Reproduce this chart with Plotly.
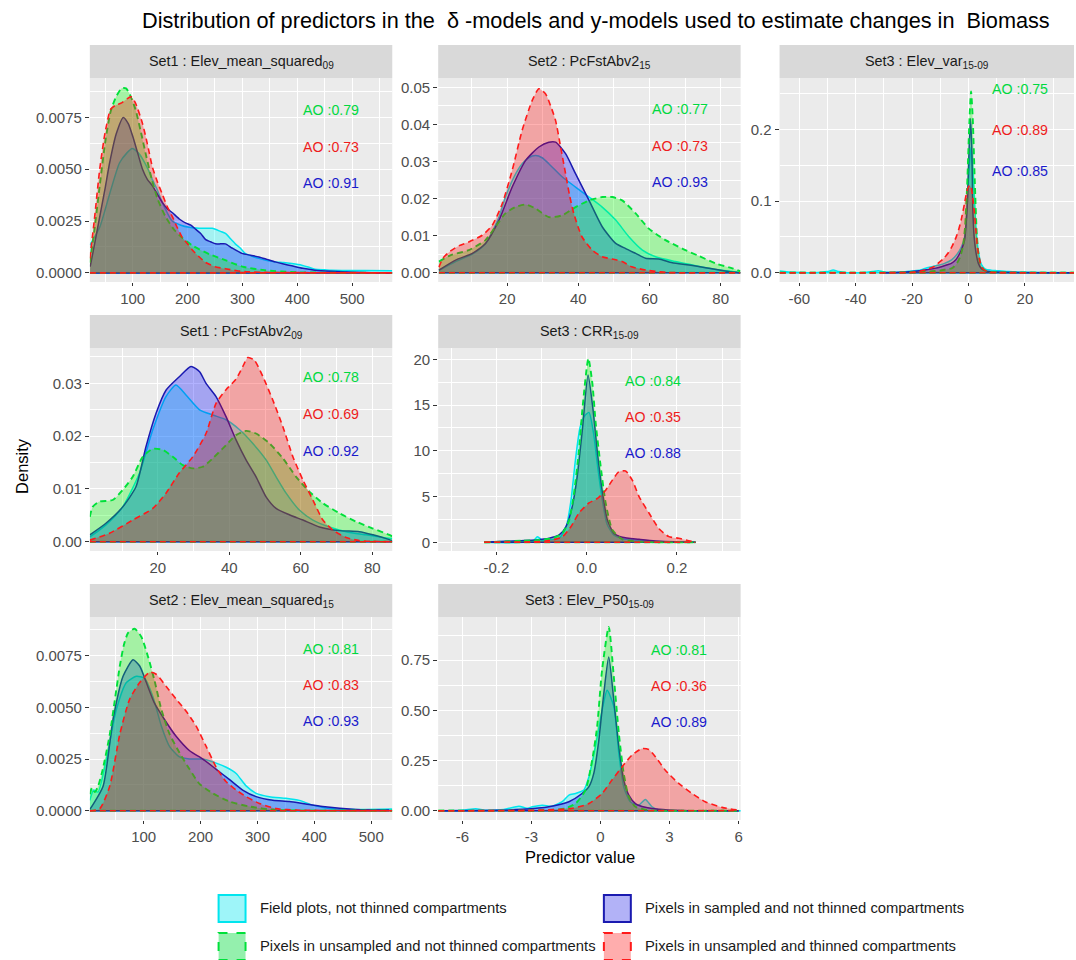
import plotly.graph_objects as go

# ---------------- text ----------------
TITLE = "Distribution of predictors in the\u00a0 \u03b4 -models and y-models used to estimate changes in\u00a0 Biomass"
X_TITLE = "Predictor value"
Y_TITLE = "Density"
SERIES_NAMES = ["Field plots, not thinned compartments",
                "Pixels in sampled and not thinned compartments",
                "Pixels in unsampled and not thinned compartments",
                "Pixels in unsampled and thinned compartments"]
PANEL_TITLES = ["Set1 : Elev_mean_squared<sub>09</sub>",
                "Set2 : PcFstAbv2<sub>15</sub>",
                "Set3 : Elev_var<sub>15-09</sub>",
                "Set1 : PcFstAbv2<sub>09</sub>",
                "Set3 : CRR<sub>15-09</sub>",
                "Set2 : Elev_mean_squared<sub>15</sub>",
                "Set3 : Elev_P50<sub>15-09</sub>"]
# AO values per panel: (green, red, blue)
AO_VALUES = [[0.79, 0.73, 0.91], [0.77, 0.73, 0.93], [0.75, 0.89, 0.85],
             [0.78, 0.69, 0.92], [0.84, 0.35, 0.88], [0.81, 0.83, 0.93],
             [0.81, 0.36, 0.89]]

# ---------------- panel 1 : Set1 Elev_mean_squared09 ----------------
P1_FIELD_X = [22, 40, 58, 76, 90, 99, 110, 118, 128, 136, 145, 154, 163, 172, 188, 203, 221, 245, 260, 269, 280, 287, 296, 305, 318, 330, 345, 360, 375, 390, 408, 420, 432, 450, 462, 490, 523, 573]
P1_FIELD_Y = [0.00134, 0.0022, 0.0038, 0.0053, 0.0058, 0.0060, 0.0058, 0.0055, 0.0050, 0.0045, 0.0040, 0.0034, 0.0029, 0.0025, 0.0023, 0.0022, 0.00215, 0.00215, 0.0020, 0.0019, 0.0016, 0.0014, 0.0012, 0.00094, 0.0008, 0.0007, 0.0006, 0.00053, 0.0005, 0.00045, 0.00037, 0.00028, 0.00018, 0.00015, 0.00013, 0.00012, 0.00012, 0.0001]
P1_SAMP_X = [22.6, 30, 40, 50, 58, 70, 83, 92, 100, 109, 118, 127, 136, 145, 154, 163, 172.5, 185, 197, 206, 215, 224, 233, 242, 251, 260, 269, 281, 299, 315, 330, 345, 360, 375, 390, 410, 432, 462, 523, 573]
P1_SAMP_Y = [0.0003, 0.0013, 0.0027, 0.0041, 0.0053, 0.0067, 0.0075, 0.0072, 0.0066, 0.0058, 0.0050, 0.0045, 0.0042, 0.0038, 0.0034, 0.0031, 0.0029, 0.0026, 0.0024, 0.0023, 0.0021, 0.0019, 0.0016, 0.0015, 0.0014, 0.0014, 0.0014, 0.0012, 0.00094, 0.00085, 0.00077, 0.00065, 0.00053, 0.00043, 0.00034, 0.00022, 0.00013, 0.00008, 0.00002, 0.0]
P1_UNS_X = [22, 30, 40, 50, 60, 70, 80, 88, 95, 105, 115, 125, 135, 145, 160, 175, 190, 210, 240, 270, 300, 340, 400, 573]
P1_UNS_Y = [0.0005, 0.0020, 0.0042, 0.0063, 0.0078, 0.0085, 0.0089, 0.0089, 0.0086, 0.0079, 0.0068, 0.0056, 0.0045, 0.0036, 0.0027, 0.0021, 0.0017, 0.0013, 0.0009, 0.0006, 0.0003, 0.00013, 0.00003, 0.0]
P1_THIN_X = [22, 30, 40, 50, 60, 70, 80, 90, 97, 105, 118, 127, 136, 145, 154, 163, 172.5, 181, 190.6, 200, 208.8, 220, 233, 250, 269, 290, 311, 350, 573]
P1_THIN_Y = [0.0007, 0.0025, 0.0050, 0.0068, 0.0079, 0.0081, 0.0082, 0.0084, 0.0085, 0.0082, 0.0072, 0.0062, 0.0051, 0.0044, 0.0038, 0.0032, 0.0027, 0.0022, 0.0017, 0.0014, 0.0011, 0.0008, 0.0005, 0.0003, 0.0002, 0.0001, 0.00005, 0.00002, 0.0]

# ---------------- panel 2 : Set2 PcFstAbv2_15 ----------------
P2_FIELD_X = [0.8, 5.5, 10.2, 13.9, 17.7, 19.5, 22, 24.2, 26, 28, 29.8, 31.7, 35.5, 39.2, 43, 46.7, 50.5, 54.2, 58, 61.7, 67.3, 73, 78.6, 83.3, 85.5]
P2_FIELD_Y = [0.0006, 0.0030, 0.0050, 0.0078, 0.0150, 0.0204, 0.0260, 0.0294, 0.0310, 0.0316, 0.0310, 0.0294, 0.0258, 0.0231, 0.0204, 0.0177, 0.0142, 0.0097, 0.0061, 0.0043, 0.0030, 0.0019, 0.0009, 0.0003, 0.0]
P2_SAMP_X = [0.8, 5.5, 10.2, 13.9, 17.7, 21.4, 25.2, 28.9, 31.7, 33.6, 36.4, 39.2, 43, 46.7, 50.5, 53.3, 56.1, 58.9, 62.6, 66.4, 71.1, 76.7, 82.3, 85.5]
P2_SAMP_Y = [0.0007, 0.0034, 0.0052, 0.0079, 0.0142, 0.0231, 0.0303, 0.0339, 0.0352, 0.0352, 0.0321, 0.0267, 0.0195, 0.0124, 0.0079, 0.0065, 0.0052, 0.0039, 0.0037, 0.0027, 0.0021, 0.0012, 0.0003, 0.0]
P2_UNS_X = [0.8, 4, 9.2, 13.9, 16.7, 19.5, 22.3, 25.2, 28, 31.7, 35.5, 39.2, 43, 46.7, 49.5, 52.3, 56.1, 59.8, 64.5, 69.2, 73.9, 78.6, 83.3, 85.5]
P2_UNS_Y = [0.003, 0.0047, 0.0061, 0.0088, 0.0124, 0.016, 0.0177, 0.0184, 0.0173, 0.015, 0.0155, 0.0177, 0.0195, 0.0204, 0.0204, 0.0195, 0.016, 0.0119, 0.0088, 0.0065, 0.0045, 0.0025, 0.0012, 0.0004]
P2_THIN_X = [0.8, 2, 4, 6.5, 9.2, 13, 15.8, 18.6, 21.4, 24.2, 27, 28.9, 30.8, 32.2, 33.6, 35, 36.4, 37.5, 38.7, 41, 43.9, 46.7, 49.5, 52.3, 55, 59, 64.5, 70, 85.5]
P2_THIN_Y = [0.0015, 0.0040, 0.0058, 0.0073, 0.0083, 0.0101, 0.0128, 0.0186, 0.0276, 0.0384, 0.0464, 0.0496, 0.0482, 0.0450, 0.0410, 0.0340, 0.0267, 0.0210, 0.0160, 0.0097, 0.0061, 0.0043, 0.0037, 0.0030, 0.0016, 0.0007, 0.0001, 0.0, 0.0]

# ---------------- panel 3 : Set3 Elev_var15-09 ----------------
P3_FIELD_X = [-67, -62, -55, -50, -48, -46, -43, -38, -34, -32, -30, -25, -20, -17, -15.5, -13, -10, -8.5, -6, -4, -2.5, -1.4, -0.5, 0.3, 0.9, 1.6, 2.7, 3.5, 4.5, 6, 8, 10, 14, 20, 37.4]
P3_FIELD_Y = [0.0023, 0.0005, 0.0, 0.0015, 0.0037, 0.0015, 0.0, 0.0, 0.0015, 0.0028, 0.001, 0.0005, 0.0025, 0.0037, 0.006, 0.0084, 0.011, 0.013, 0.018, 0.026, 0.036, 0.05, 0.09, 0.15, 0.175, 0.14, 0.06, 0.03, 0.012, 0.005, 0.0035, 0.0028, 0.0015, 0.0005, 0.0]
P3_SAMP_X = [-30, -24, -20, -15.5, -12, -9.6, -7.5, -6.1, -4.5, -3.8, -2.5, -1.4, -0.5, 0.2, 0.7, 1.2, 1.5, 2.0, 2.7, 3.5, 4.5, 6, 8, 12, 37.4]
P3_SAMP_Y = [0.0, 0.0005, 0.0015, 0.0037, 0.0060, 0.0084, 0.011, 0.013, 0.018, 0.022, 0.032, 0.0456, 0.09, 0.17, 0.215, 0.17, 0.092, 0.05, 0.027, 0.013, 0.006, 0.0025, 0.0014, 0.0005, 0.0]
P3_UNS_X = [-67, -30, -20, -14, -10, -8, -6, -5, -4, -3, -2, -1.2, -0.5, 0.3, 0.9, 1.5, 2.2, 3, 4, 5.5, 8, 12, 37.4]
P3_UNS_Y = [0, 0, 0.0005, 0.0015, 0.003, 0.0045, 0.006, 0.009, 0.014, 0.022, 0.036, 0.065, 0.12, 0.21, 0.253, 0.215, 0.13, 0.05, 0.015, 0.004, 0.0012, 0.0003, 0.0]
P3_THIN_X = [-67, -30, -20, -15.5, -12, -10.8, -9, -7.3, -5.8, -4.35, -3.5, -2.6, -1.5, -0.5, 0.35, 1.0, 1.5, 2.1, 2.7, 3.3, 4.2, 5, 6.5, 8, 12, 37.4]
P3_THIN_Y = [0, 0, 0.0005, 0.0037, 0.009, 0.013, 0.019, 0.027, 0.037, 0.050, 0.060, 0.0735, 0.095, 0.115, 0.122, 0.118, 0.105, 0.083, 0.055, 0.0316, 0.014, 0.006, 0.002, 0.0005, 0.0001, 0.0]

# ---------------- panel 4 : Set1 PcFstAbv2_09 ----------------
P4_FIELD_X = [1, 5.5, 10.2, 14.9, 18.6, 22.3, 25.1, 27.9, 31.7, 35.4, 39.1, 42.9, 46.6, 50.3, 53.1, 55.9, 59.6, 63.4, 68, 72.7, 78.3, 83, 85.6]
P4_FIELD_Y = [0.0009, 0.0032, 0.0066, 0.013, 0.0212, 0.0275, 0.0297, 0.0278, 0.025, 0.024, 0.0231, 0.0212, 0.0186, 0.0155, 0.0123, 0.0092, 0.006, 0.0041, 0.0028, 0.0019, 0.0013, 0.0008, 0.0006]
P4_SAMP_X = [1, 5.5, 10.2, 13.9, 16.7, 19.5, 22.3, 26.1, 29.3, 31.7, 33.5, 36.3, 39.1, 41.9, 44.7, 47.5, 50.3, 53.1, 56.8, 60.6, 65.2, 70.8, 76.4, 80.2, 84.8, 85.6]
P4_SAMP_Y = [0.0013, 0.0035, 0.0066, 0.0104, 0.018, 0.0243, 0.0287, 0.0313, 0.0332, 0.0322, 0.030, 0.0275, 0.0237, 0.0193, 0.0155, 0.0123, 0.0085, 0.0063, 0.0051, 0.0041, 0.0028, 0.0021, 0.0019, 0.0013, 0.0004, 0.0002]
P4_UNS_X = [1, 1.8, 3.7, 7.4, 10.2, 13, 15.8, 18.6, 21.4, 24.2, 27, 29.8, 32.6, 35.4, 39.1, 41.9, 44.7, 47.5, 51.3, 55, 58.7, 62.4, 66.2, 70.8, 75.5, 80.2, 84.8, 85.6]
P4_UNS_Y = [0.0047, 0.0066, 0.0076, 0.0079, 0.0098, 0.0123, 0.0161, 0.0176, 0.0174, 0.0161, 0.0145, 0.0139, 0.0142, 0.0158, 0.0183, 0.0202, 0.021, 0.0205, 0.0186, 0.0158, 0.0123, 0.0095, 0.0073, 0.0054, 0.0038, 0.0025, 0.0013, 0.001]
P4_THIN_X = [1, 6.5, 13, 18.6, 22.3, 26, 29.8, 33.5, 36.3, 39.1, 41.9, 43.8, 45.2, 47, 49.4, 52.2, 55, 57.8, 60.6, 63.4, 66.2, 69, 72.7, 76.4, 85.6]
P4_THIN_Y = [0.0003, 0.0016, 0.0041, 0.0063, 0.0092, 0.013, 0.0161, 0.0205, 0.0262, 0.0288, 0.0308, 0.0332, 0.0349, 0.0344, 0.0313, 0.0268, 0.0218, 0.0161, 0.0117, 0.0079, 0.0041, 0.0022, 0.0008, 0.0002, 0.0]

# ---------------- panel 5 : Set3 CRR15-09 ----------------
P5_FIELD_X = [-0.227, -0.12, -0.109, -0.098, -0.085, -0.06, -0.045, -0.035, -0.025, -0.015, -0.005, 0.005, 0.015, 0.025, 0.035, 0.045, 0.06, 0.08, 0.12, 0.2, 0.241]
P5_FIELD_Y = [0, 0.1, 0.62, 0.2, 0.25, 0.5, 1.8, 4.5, 9.0, 12.5, 13.8, 14.2, 12.0, 8.0, 4.5, 2.0, 0.8, 0.4, 0.2, 0.02, 0]
P5_SAMP_X = [-0.227, -0.15, -0.113, -0.083, -0.061, -0.046, -0.032, -0.021, -0.0096, 0.003, 0.014, 0.024, 0.035, 0.046, 0.06, 0.079, 0.116, 0.152, 0.241]
P5_SAMP_Y = [0, 0.18, 0.26, 0.44, 0.8, 1.7, 3.9, 7.2, 12.3, 18.3, 14.5, 9.7, 5.4, 2.4, 1.0, 0.55, 0.33, 0.15, 0]
P5_UNS_X = [-0.227, -0.142, -0.105, -0.076, -0.054, -0.039, -0.028, -0.017, -0.0096, 0.0037, 0.0125, 0.02, 0.031, 0.042, 0.057, 0.079, 0.116, 0.16, 0.241]
P5_UNS_Y = [0, 0.18, 0.26, 0.44, 1.0, 2.4, 5.4, 10.1, 14.5, 20.1, 17.4, 13.0, 8.3, 4.3, 1.35, 0.33, 0.07, 0.0, 0]
P5_THIN_X = [-0.227, -0.12, -0.083, -0.054, -0.035, -0.017, 0.005, 0.024, 0.042, 0.057, 0.071, 0.086, 0.101, 0.116, 0.138, 0.16, 0.182, 0.204, 0.226, 0.241]
P5_THIN_Y = [0, 0.05, 0.18, 0.6, 1.7, 3.2, 4.3, 4.8, 5.7, 6.8, 7.7, 7.8, 6.8, 5.0, 3.2, 1.5, 0.62, 0.44, 0.18, 0]

# ---------------- panel 6 : Set2 Elev_mean_squared15 ----------------
P6_FIELD_X = [5.3, 12, 19.6, 34.5, 52, 69.6, 87, 101.8, 116.4, 131, 145.6, 163, 180.7, 204, 227.5, 245, 262.6, 280, 297.7, 321, 350, 373.7, 397, 426, 473, 537]
P6_FIELD_Y = [0.0005, 0.0010, 0.0009, 0.0025, 0.0049, 0.0062, 0.0065, 0.0064, 0.0055, 0.0041, 0.0031, 0.0026, 0.0025, 0.0025, 0.0023, 0.0021, 0.0018, 0.0012, 0.00084, 0.00068, 0.0006, 0.0005, 0.00027, 0.00011, 0.00006, 0.00008]
P6_SAMP_X = [5.3, 28.7, 46, 63.7, 81.3, 93, 104.7, 119, 136.8, 157, 180.7, 204, 227.5, 251, 274, 297.7, 327, 356, 385, 414.6, 473, 531.6]
P6_SAMP_Y = [0.00006, 0.0012, 0.0044, 0.0065, 0.0073, 0.0070, 0.0062, 0.0052, 0.0044, 0.0036, 0.0029, 0.0025, 0.0020, 0.0015, 0.0010, 0.00068, 0.0005, 0.00044, 0.00032, 0.0002, 0.00006, 0.00003]
P6_UNS_X = [5.3, 9, 14, 20, 28, 40.4, 50, 58, 65, 72.5, 84.2, 96, 107.6, 119, 131, 145.6, 163, 180.7, 198, 221.6, 251, 286, 333, 400, 537]
P6_UNS_Y = [0.0008, 0.0011, 0.0009, 0.0012, 0.0020, 0.0037, 0.0055, 0.0070, 0.0080, 0.0086, 0.0088, 0.0084, 0.00745, 0.0063, 0.0049, 0.0037, 0.0028, 0.0020, 0.0013, 0.00084, 0.00044, 0.0002, 0.00003, 0.0, 0.0]
P6_THIN_X = [5.3, 22.8, 40.4, 58, 75.4, 93, 110.5, 122, 140, 157, 175, 192, 210, 227.5, 245, 262.6, 280, 303.5, 333, 368, 537]
P6_THIN_Y = [0.0, 0.0001, 0.0012, 0.0037, 0.0054, 0.0062, 0.0067, 0.0066, 0.0060, 0.0054, 0.0048, 0.0041, 0.0031, 0.0021, 0.0014, 0.0010, 0.00068, 0.00035, 0.0001, 0.00003, 0.0]

# ---------------- panel 7 : Set3 Elev_P50 15-09 ----------------
P7_FIELD_X = [-7.05, -6, -5.42, -5, -4.2, -3.54, -3.2, -2.96, -2.53, -2.1, -1.66, -1.37, -1.08, -0.72, -0.5, -0.22, 0.07, 0.29, 0.58, 0.8, 1.01, 1.3, 1.66, 1.95, 2.24, 2.6, 3.5, 6.09]
P7_FIELD_Y = [0, 0.003, 0.01, 0.003, 0.006, 0.023, 0.012, 0.02, 0.028, 0.023, 0.045, 0.078, 0.086, 0.103, 0.17, 0.318, 0.50, 0.60, 0.52, 0.285, 0.12, 0.045, 0.028, 0.056, 0.02, 0.003, 0.0, 0]
P7_SAMP_X = [-7.05, -4.5, -3.4, -2.24, -1.37, -0.8, -0.5, -0.29, -0.07, 0.145, 0.36, 0.58, 0.8, 1.01, 1.23, 1.52, 1.95, 2.53, 3.5, 6]
P7_SAMP_Y = [0, 0.002, 0.007, 0.02, 0.045, 0.086, 0.12, 0.186, 0.352, 0.584, 0.766, 0.55, 0.318, 0.153, 0.078, 0.036, 0.017, 0.007, 0.001, 0]
P7_UNS_X = [-7.05, -3, -2.2, -1.52, -1.08, -0.65, -0.36, -0.145, 0.07, 0.36, 0.58, 0.8, 1.01, 1.23, 1.52, 2.1, 3, 6]
P7_UNS_Y = [0, 0.0, 0.004, 0.012, 0.036, 0.103, 0.252, 0.418, 0.70, 0.916, 0.667, 0.385, 0.186, 0.07, 0.02, 0.003, 0.0, 0]
P7_THIN_X = [-7.05, -2.67, -1.23, -0.5, 0.07, 0.5, 0.94, 1.37, 1.81, 2.1, 2.39, 2.82, 3.4, 3.98, 4.55, 5.28, 6.0]
P7_THIN_Y = [0, 0.003, 0.012, 0.036, 0.086, 0.153, 0.219, 0.277, 0.31, 0.305, 0.269, 0.202, 0.136, 0.086, 0.045, 0.017, 0.003]

# ---------------- tick labels ----------------
X_TICKS = [
    ([100, 200, 300, 400, 500], ["100", "200", "300", "400", "500"]),
    ([20, 40, 60, 80], ["20", "40", "60", "80"]),
    ([-60, -40, -20, 0, 20], ["-60", "-40", "-20", "0", "20"]),
    ([20, 40, 60, 80], ["20", "40", "60", "80"]),
    ([-0.2, 0.0, 0.2], ["-0.2", "0.0", "0.2"]),
    ([100, 200, 300, 400, 500], ["100", "200", "300", "400", "500"]),
    ([-6, -3, 0, 3, 6], ["-6", "-3", "0", "3", "6"]),
]
Y_TICKS = [
    ([0, 0.0025, 0.005, 0.0075], ["0.0000", "0.0025", "0.0050", "0.0075"]),
    ([0, 0.01, 0.02, 0.03, 0.04, 0.05], ["0.00", "0.01", "0.02", "0.03", "0.04", "0.05"]),
    ([0, 0.1, 0.2], ["0.0", "0.1", "0.2"]),
    ([0, 0.01, 0.02, 0.03], ["0.00", "0.01", "0.02", "0.03"]),
    ([0, 5, 10, 15, 20], ["0", "5", "10", "15", "20"]),
    ([0, 0.0025, 0.005, 0.0075], ["0.0000", "0.0025", "0.0050", "0.0075"]),
    ([0, 0.25, 0.5, 0.75], ["0.00", "0.25", "0.50", "0.75"]),
]

# ---------------- layout (styling / positions) ----------------
W, H = 1076, 960
FONT = "Liberation Sans, Arial, sans-serif"
X_RANGES = [[22, 573], [0.6, 85.6], [-67, 37.4], [1, 85.6], [-0.329, 0.341], [5.3, 537], [-7.05, 6.09]]
Y_RANGES = [[-0.00044, 0.0094], [-0.0025, 0.0525], [-0.013, 0.2716], [-0.00176, 0.0367],
            [-0.95, 21.24], [-0.00045, 0.00937], [-0.046, 0.965]]
X_MINOR = [50, 10, 10, 10, 0.1, 50, 1.5]
Y_MINOR = [0.00125, 0.005, 0.05, 0.005, 2.5, 0.00125, 0.125]
COLS = [(90, 393), (439, 742), (781, 1076)]
ROWS = [(45, 78, 282), (315, 348, 551), (584, 617, 820)]   # strip top, plot top, plot bottom
CELLS = [(0, 0), (0, 1), (0, 2), (1, 0), (1, 1), (2, 0), (2, 1)]   # (row, col)
AO_POS = [(0.798, [0.843, 0.663, 0.487]), (0.799, [0.848, 0.668, 0.489]),
          (0.818, [0.944, 0.745, 0.546]), (0.798, [0.859, 0.675, 0.493]),
          (0.711, [0.839, 0.662, 0.484]), (0.798, [0.842, 0.665, 0.488]),
          (0.795, [0.837, 0.660, 0.481])]

LINE_COLORS = ["#00E5EE", "#1A1AB0", "#00E03A", "#FF1A1A"]
FILL_COLORS = ["rgba(0,255,255,0.3)", "rgba(0,0,255,0.3)", "rgba(0,255,0,0.3)", "rgba(255,0,0,0.3)"]
KEY_FILLS = ["rgba(0,230,240,0.38)", "rgba(0,0,230,0.30)", "rgba(0,220,60,0.42)", "rgba(255,0,0,0.32)"]
DASHES = ["solid", "solid", "6px,4px", "6px,4px"]
WIDTHS = [1.5, 1.5, 1.9, 1.6]
AO_COLORS = ["#00D93F", "#EE1C1C", "#1A1ACC"]   # green, red, blue

DATA = [
    [(P1_FIELD_X, P1_FIELD_Y), (P1_SAMP_X, P1_SAMP_Y), (P1_UNS_X, P1_UNS_Y), (P1_THIN_X, P1_THIN_Y)],
    [(P2_FIELD_X, P2_FIELD_Y), (P2_SAMP_X, P2_SAMP_Y), (P2_UNS_X, P2_UNS_Y), (P2_THIN_X, P2_THIN_Y)],
    [(P3_FIELD_X, P3_FIELD_Y), (P3_SAMP_X, P3_SAMP_Y), (P3_UNS_X, P3_UNS_Y), (P3_THIN_X, P3_THIN_Y)],
    [(P4_FIELD_X, P4_FIELD_Y), (P4_SAMP_X, P4_SAMP_Y), (P4_UNS_X, P4_UNS_Y), (P4_THIN_X, P4_THIN_Y)],
    [(P5_FIELD_X, P5_FIELD_Y), (P5_SAMP_X, P5_SAMP_Y), (P5_UNS_X, P5_UNS_Y), (P5_THIN_X, P5_THIN_Y)],
    [(P6_FIELD_X, P6_FIELD_Y), (P6_SAMP_X, P6_SAMP_Y), (P6_UNS_X, P6_UNS_Y), (P6_THIN_X, P6_THIN_Y)],
    [(P7_FIELD_X, P7_FIELD_Y), (P7_SAMP_X, P7_SAMP_Y), (P7_UNS_X, P7_UNS_Y), (P7_THIN_X, P7_THIN_Y)],
]


def px(x):
    return x / W


def py(y):
    return 1 - y / H


fig = go.Figure()
shapes = []
annotations = []
layout_axes = {}

for i, series in enumerate(DATA):
    n = "" if i == 0 else str(i + 1)
    xa, ya = "x" + n, "y" + n
    r, c = CELLS[i]
    x0, x1 = COLS[c]
    st, pt, pb = ROWS[r]
    for k, (xs, ys) in enumerate(series):
        fig.add_trace(go.Scatter(
            x=xs, y=ys, xaxis=xa, yaxis=ya, mode="lines",
            line=dict(color=LINE_COLORS[k], width=WIDTHS[k], dash=DASHES[k], shape="spline", smoothing=0.6),
            fill="tozeroy", fillcolor=FILL_COLORS[k], showlegend=False, hoverinfo="skip",
            name=SERIES_NAMES[k]))
        fig.add_trace(go.Scatter(
            x=[min(xs), max(xs)], y=[0, 0], xaxis=xa, yaxis=ya, mode="lines",
            line=dict(color=LINE_COLORS[k], width=WIDTHS[k], dash=DASHES[k]),
            showlegend=False, hoverinfo="skip"))

    tv, tt = X_TICKS[i]
    layout_axes["xaxis" + n] = dict(
        domain=[px(x0), px(x1)], anchor=ya, range=X_RANGES[i],
        tickmode="array", tickvals=tv, ticktext=tt,
        showgrid=True, gridcolor="white", gridwidth=1.1, zeroline=False, showline=False,
        ticks="outside", ticklen=3, tickwidth=1, tickcolor="#333333",
        tickfont=dict(family=FONT, size=15, color="#4D4D4D"),
        minor=dict(dtick=X_MINOR[i], tick0=0, showgrid=True, gridcolor="white", gridwidth=0.5, ticks=""),
        fixedrange=True)
    tv, tt = Y_TICKS[i]
    layout_axes["yaxis" + n] = dict(
        domain=[py(pb), py(pt)], anchor=xa, range=Y_RANGES[i],
        tickmode="array", tickvals=tv, ticktext=tt,
        showgrid=True, gridcolor="white", gridwidth=1.1, zeroline=False, showline=False,
        ticks="outside", ticklen=4, tickwidth=1, tickcolor="#333333",
        tickfont=dict(family=FONT, size=15, color="#4D4D4D"),
        minor=dict(dtick=Y_MINOR[i], tick0=0, showgrid=True, gridcolor="white", gridwidth=0.5, ticks=""),
        fixedrange=True)

    # strip
    shapes.append(dict(type="rect", xref="paper", yref="paper", x0=px(x0), x1=px(x1),
                       y0=py(pt), y1=py(st), fillcolor="#D9D9D9", line=dict(width=0), layer="below"))
    annotations.append(dict(text=PANEL_TITLES[i], xref="paper", yref="paper",
                            x=px((x0 + x1) / 2), y=py((st + pt) / 2), showarrow=False,
                            xanchor="center", yanchor="middle",
                            font=dict(family=FONT, size=14.4, color="#1A1A1A")))
    # AO labels
    ax, ays = AO_POS[i]
    for j in range(3):
        annotations.append(dict(text="AO :%.2f" % AO_VALUES[i][j], xref=xa + " domain", yref=ya + " domain",
                                x=ax, y=ays[j], showarrow=False, xanchor="center", yanchor="middle",
                                font=dict(family=FONT, size=14.2, color=AO_COLORS[j])))

# titles
annotations.append(dict(text=TITLE, xref="paper", yref="paper", x=px(597), y=py(21), showarrow=False,
                        xanchor="center", yanchor="middle", font=dict(family=FONT, size=21.7, color="#000000")))
annotations.append(dict(text=X_TITLE, xref="paper", yref="paper", x=px(581), y=py(857), showarrow=False,
                        xanchor="center", yanchor="middle", font=dict(family=FONT, size=16.5, color="#000000")))
annotations.append(dict(text=Y_TITLE, xref="paper", yref="paper", x=px(22), y=py(466), showarrow=False,
                        textangle=-90, xanchor="center", yanchor="middle",
                        font=dict(family=FONT, size=16.5, color="#000000")))

# legend (manual keys)
KEY_POS = [(219, 895), (605, 895), (219, 933), (605, 933)]
for k in range(4):
    kx, ky = KEY_POS[k]
    shapes.append(dict(type="rect", xref="paper", yref="paper", x0=px(kx), x1=px(kx + 27),
                       y0=py(ky + 27), y1=py(ky), fillcolor=KEY_FILLS[k],
                       line=dict(color=LINE_COLORS[k], width=2,
                                 dash="solid" if k < 2 else "dash")))
    annotations.append(dict(text=SERIES_NAMES[k], xref="paper", yref="paper", x=px(kx + 39), y=py(ky + 13),
                            showarrow=False, xanchor="left", yanchor="middle",
                            font=dict(family=FONT, size=14.8, color="#1A1A1A")))

fig.update_layout(width=W, height=H, autosize=False, margin=dict(l=0, r=0, t=0, b=0),
                  paper_bgcolor="white", plot_bgcolor="#EBEBEB", showlegend=False,
                  shapes=shapes, annotations=annotations, **layout_axes)

fig.write_html("out.html", config={"displayModeBar": False},
               post_script="document.body.style.margin='0px';document.body.style.overflow='hidden';")
